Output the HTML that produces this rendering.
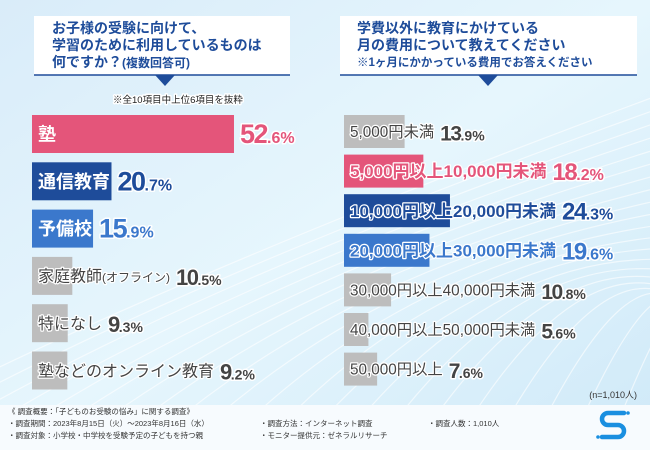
<!DOCTYPE html>
<html><head><meta charset="utf-8"><style>
html,body{margin:0;padding:0;width:650px;height:450px;overflow:hidden;}
svg{display:block;font-family:"Liberation Sans","Noto Sans CJK JP",sans-serif;}
.o{paint-order:stroke;stroke:#fff;stroke-width:3px;stroke-linejoin:round;}
</style></head><body>
<svg id="c" width="650" height="450" viewBox="0 0 650 450">
<defs>
<linearGradient id="bg" x1="0" y1="0" x2="1" y2="1">
<stop offset="0" stop-color="#d9ecf9"/><stop offset="0.5" stop-color="#e6f6fd"/><stop offset="1" stop-color="#cfe9f8"/>
</linearGradient>
</defs>
<rect width="650" height="450" fill="url(#bg)"/>
<g id="lines" stroke="#fff" stroke-opacity="0.6" stroke-width="1.2" fill="none"></g>
<g>
<rect x="34" y="16" width="256" height="59" fill="#fff"/>
<line x1="34" y1="75" x2="290" y2="75" stroke="#1e4c9a" stroke-width="1.5"/>
<polygon points="155,75 175,75 165,86" fill="#1e4c9a"/>
<text x="52" y="33" font-size="14" fill="#1e4c9a" font-weight="bold">お子様の受験に向けて、</text>
<text x="52" y="50" font-size="14" fill="#1e4c9a" font-weight="bold">学習のために利用しているものは</text>
<text x="52" y="67" font-size="14" fill="#1e4c9a" font-weight="bold">何ですか？<tspan font-size="12">(複数回答可)</tspan></text>
</g>
<text x="113" y="103" font-size="9.5" fill="#222" class="o">※全10項目中上位6項目を抜粋</text>
<g>
<rect x="340" y="16" width="297" height="59" fill="#fff"/>
<line x1="340" y1="75" x2="637" y2="75" stroke="#1e4c9a" stroke-width="1.5"/>
<polygon points="478,75 498,75 488,86" fill="#1e4c9a"/>
<text x="357" y="33" font-size="14" fill="#1e4c9a" font-weight="bold">学費以外に教育にかけている</text>
<text x="357" y="50" font-size="14" fill="#1e4c9a" font-weight="bold">月の費用について教えてください</text>
<text x="357" y="66" font-size="11.5" fill="#1e4c9a" font-weight="bold">※1ヶ月にかかっている費用でお答えください</text>
</g>
<g id="left"></g>
<g id="right"></g>
<text x="637" y="398" font-size="9" fill="#333" text-anchor="end">(n=1,010人)</text>
<g>
<rect x="0" y="405" width="650" height="45" fill="#f7fbfe"/>
<g font-size="7.5" fill="#333">
<text x="8" y="414">《 調査概要：「子どものお受験の悩み」に関する調査》</text>
<text x="8" y="426">・調査期間：2023年8月15日（火）～2023年8月16日（水）</text>
<text x="8" y="438">・調査対象：小学校・中学校を受験予定の子どもを持つ親</text>
<text x="260" y="426">・調査方法：インターネット調査</text>
<text x="260" y="438">・モニター提供元：ゼネラルリサーチ</text>
<text x="428" y="426">・調査人数：1,010人</text>
</g>
</g>
<g fill="none" stroke="#1a8fe0" stroke-width="4.5" stroke-linecap="round">
<path d="M624 413 H608 a6 6 0 0 0 0 12 H618 a6 6 0 0 1 0 12 H602"/>
<circle cx="628" cy="413" r="1.8" fill="#1a8fe0" stroke="none"/>
<circle cx="598" cy="437" r="1.8" fill="#1a8fe0" stroke="none"/>
</g>
</svg>
<script>
const leftCats=["塾","通信教育","予備校","家庭教師","特になし","塾などのオンライン教育"];
const leftSuffix=["","","","(オフライン)","",""];
const leftVals=[52.6,20.7,15.9,10.5,9.3,9.2];
const rightCats=["5,000円未満","5,000円以上10,000円未満","10,000円以上20,000円未満","20,000円以上30,000円未満","30,000円以上40,000円未満","40,000円以上50,000円未満","50,000円以上"];
const rightVals=[13.9,18.2,24.3,19.6,10.8,5.6,7.6];
const leftColors=["#e4557a","#1e4c9a","#3b78cc","#bdbdbd","#bdbdbd","#bdbdbd"];
const rightColors=["#bdbdbd","#e4557a","#1e4c9a","#3b78cc","#bdbdbd","#bdbdbd","#bdbdbd"];
const NS="http://www.w3.org/2000/svg";
function mk(t,a,p){const e=document.createElementNS(NS,t);for(const k in a)e.setAttribute(k,a[k]);p.appendChild(e);return e;}
const lx=v=>v*3.84, rx=v=>v*4.36;
const ly=i=>115+i*47.3, ry=i=>115+i*39.6;
const lg=document.getElementById('lines');
for(let i=0;i<24;i++){mk('path',{d:`M${-200+i*40} 470 Q ${100+i*30} ${300-i*5} ${700} ${80+i*14}`},lg);}
function draw(g,cats,vals,cols,xs,ys,x0,h,isLeft,suffix){
 cats.forEach((c,i)=>{
  const y=ys(i);const w=xs(vals[i]);
  const r=mk('rect',{x:x0,y:y,width:w,height:h,fill:cols[i]},g);
  
  
  const gray=cols[i]==="#bdbdbd";
  const tc=gray?"#444":cols[i];
  const fs=gray?(isLeft?16:15.3):(isLeft?18:17);
  let attrs={x:x0+6,y:y+h/2+fs*0.36,'font-size':fs,'font-weight':gray?'normal':'bold','paint-order':'stroke','stroke-linejoin':'round'};
  if(isLeft&&!gray){attrs.fill='#fff';attrs.stroke=cols[i];attrs['stroke-width']=2.5;}
  else{attrs.fill=tc;attrs.stroke='#fff';attrs['stroke-width']=2.5;}
  const t=mk('text',attrs,g);
  
  
  t.textContent=c;
  if(suffix&&suffix[i]){const s=mk('tspan',{'font-size':12},t);s.textContent=suffix[i];}
  const labEnd=x0+6+t.getComputedTextLength();
  const vx=Math.max(labEnd,x0+w)+6;
  const v=vals[i].toFixed(1).split('.');
  const vt=mk('text',{x:vx,y:y+h/2+9,fill:tc,stroke:'#fff','stroke-width':3,'paint-order':'stroke','stroke-linejoin':'round','font-weight':'bold'},g);
  
  
  const n=mk('tspan',{'font-size':isLeft?(gray?22:27):(gray?21:24),'letter-spacing':-1.5},vt);n.textContent=v[0];
  const d=mk('tspan',{'font-size':gray?14:16},vt);d.textContent='.'+v[1]+'%';
 });
}
draw(document.getElementById('left'),leftCats,leftVals,leftColors,lx,ly,32,38,true,leftSuffix);
draw(document.getElementById('right'),rightCats,rightVals,rightColors,rx,ry,344,33,false,null);
</script>
</body></html>
